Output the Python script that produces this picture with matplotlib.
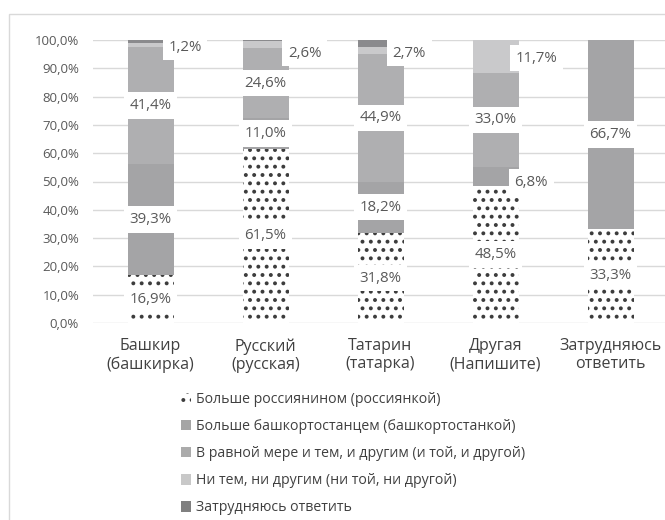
import numpy as np
import matplotlib
matplotlib.use("Agg")
import matplotlib.pyplot as plt
from matplotlib.patches import Patch, Rectangle
from matplotlib.ticker import FuncFormatter

plt.rcParams['font.family'] = ['Open Sans', 'DejaVu Sans']
plt.rcParams['hatch.linewidth'] = 1.6

# категории (национальность)
kategorie = ['Башкир\n(башкирка)', 'Русский\n(русская)', 'Татарин\n(татарка)',
             'Другая\n(Напишите)', 'Затрудняюсь\nответить']

serie = ['Больше россиянином (россиянкой)',
         'Больше башкортостанцем (башкортостанкой)',
         'В равной мере и тем, и другим (и той, и другой)',
         'Ни тем, ни другим (ни той, ни другой)',
         'Затрудняюсь ответить']

rossiyaninom = [16.9, 61.5, 31.8, 48.5, 33.3]
bashkortostancem = [39.3, 11.0, 18.2, 6.8, 66.7]
ravnoy_mere = [41.4, 24.6, 44.9, 33.0, 0.0]
ni_tem = [1.2, 2.6, 2.7, 11.7, 0.0]
zatrudnyayus = [1.2, 0.3, 2.4, 0.0, 0.0]

wartosci = [rossiyaninom, bashkortostancem, ravnoy_mere, ni_tem, zatrudnyayus]

# podpisy: (seria, kategoria) -> przesuniecie w prawo; reszta na srodku
podpisy_z_boku = {(3, 0): 0.30, (3, 1): 0.34, (3, 2): 0.25, (3, 3): 0.36, (1, 3): 0.31}
podpisy_y = {(3, 0): 97.5, (3, 1): 95.4, (3, 2): 95.4, (3, 3): 93.6, (1, 3): 49.8}
ukryte = {(4, 0), (4, 1), (4, 2)}

kolory = ['white', '#a4a4a6', '#afafb1', '#c9c9cb', '#8a8a8d']
kolory_leg = ['white', '#a5a5a5', '#ababab', '#c8c8c8', '#808080']

fig = plt.figure(figsize=(6.65, 5.2), dpi=100)
ax = fig.add_axes([93/665, 197/520, 575/665, 283/520])

x = np.arange(len(kategorie))
bottom = np.zeros(len(kategorie))
for i, vals in enumerate(wartosci):
    vals = np.array(vals)
    if i == 0:
        ax.bar(x, vals, 0.4, bottom=bottom, facecolor='white', edgecolor='#3c3c3c',
               hatch='..', linewidth=0, zorder=2)
    else:
        ax.bar(x, vals, 0.4, bottom=bottom, color=kolory[i], linewidth=0, zorder=2)
    for j in range(len(kategorie)):
        v = vals[j]
        if v <= 0 or (i, j) in ukryte:
            continue
        lab = f'{v:.1f}%'.replace('.', ',')
        if (i, j) in podpisy_z_boku:
            px = x[j] + podpisy_z_boku[(i, j)]
            py = podpisy_y[(i, j)]
        else:
            px = x[j]
            py = bottom[j] + v / 2
        ax.text(px, py, lab, ha='center', va='center', fontsize=10.8, color='#595959',
                zorder=4, bbox=dict(facecolor='white', edgecolor='none', boxstyle='square,pad=0.38'))
    bottom += vals

ax.set_xlim(-0.5, 4.5)
ax.set_ylim(0, 100)
ax.set_yticks(np.arange(0, 101, 10))
ax.yaxis.set_major_formatter(FuncFormatter(lambda v, p: f'{v:.1f}%'.replace('.', ',')))
ax.set_xticks(x)
ax.set_xticklabels(kategorie, fontsize=11.5, color='#404040', linespacing=1.15)
ax.tick_params(axis='y', length=0, pad=10, labelsize=9.5, labelcolor='#595959')
ax.tick_params(axis='x', length=0, pad=11)
ax.grid(axis='y', color='#d9d9d9', linewidth=1, zorder=0)
ax.set_axisbelow(True)
for s in ax.spines.values():
    s.set_visible(False)

uchwyty = [Patch(facecolor='white', edgecolor='#3c3c3c', hatch='..', linewidth=0)]
for i in range(1, 5):
    uchwyty.append(Patch(facecolor=kolory_leg[i], linewidth=0))
fig.legend(uchwyty, serie, loc='upper left', bbox_to_anchor=(168/665, 1 - 379/520),
           frameon=False, fontsize=10.2, labelcolor='#404040', handlelength=0.75,
           handleheight=0.75, handletextpad=0.3, labelspacing=0.86)

fig.patches.append(Rectangle((9/665, -0.05), 1.2, 1 - 14/520 + 0.05, transform=fig.transFigure,
                             facecolor='none', edgecolor='#d9d9d9', linewidth=1))

plt.savefig('out.png', dpi=100)
